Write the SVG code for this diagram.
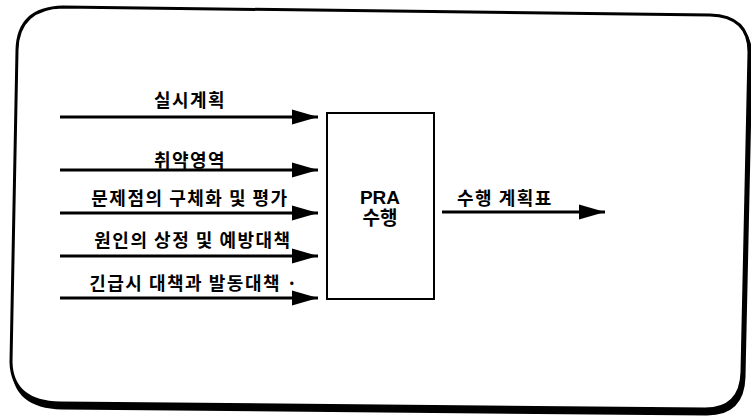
<svg xmlns="http://www.w3.org/2000/svg" width="751" height="419" viewBox="0 0 751 419">
<style>
.lbl{font-family:"Noto Sans CJK KR","Noto Sans",sans-serif;font-weight:bold;font-size:18px;letter-spacing:1.5px;fill:#000;text-anchor:middle}
.big{font-family:"Liberation Sans","Noto Sans CJK KR",sans-serif;font-weight:bold;font-size:19px;fill:#000;text-anchor:middle}
.ln{stroke:#000;stroke-width:2.8;fill:none}
</style>
<defs>
<marker id="ah" markerUnits="userSpaceOnUse" markerWidth="28" markerHeight="18" refX="26" refY="8" orient="auto">
<path d="M0,0.5 L26,8 L0,15.5 Z" fill="#000"/>
</marker>
<path id="frame" d="M63,7 L710,15 Q749,16 749,52 L742,372 Q741,409 705,409 L60,403 Q12,402 11,362 L17,50 Q18,8 63,7 Z"/>
</defs>
<rect width="751" height="419" fill="#fff"/>
<g id="frame-border">
<use href="#frame" transform="translate(2,5)" fill="#000" stroke="#000" stroke-width="3"/>
<use href="#frame" fill="#fff" stroke="#000" stroke-width="3"/>
</g>
<g id="connectors">
<line class="ln" x1="60" y1="117" x2="318" y2="117" marker-end="url(#ah)"/>
<line class="ln" x1="60" y1="170" x2="318" y2="170" marker-end="url(#ah)"/>
<line class="ln" x1="60" y1="213" x2="318" y2="213" marker-end="url(#ah)"/>
<line class="ln" x1="60" y1="256" x2="318" y2="256" marker-end="url(#ah)"/>
<line class="ln" x1="60" y1="298" x2="318" y2="298" marker-end="url(#ah)"/>
<line class="ln" x1="442" y1="212" x2="605" y2="212" marker-end="url(#ah)"/>
</g>
<g id="labels">
<text class="lbl" x="190" y="107">실시계획</text>
<text class="lbl" x="190" y="167">취약영역</text>
<text class="lbl" x="190" y="205">문제점의 구체화 및 평가</text>
<text class="lbl" x="193" y="247">원인의 상정 및 예방대책</text>
<text class="lbl" x="194" y="290">긴급시 대책과 발동대책 ·</text>
<text class="lbl" x="505" y="205">수행 계획표</text>
</g>
<g id="node-pra">
<rect x="327" y="113" width="107" height="186" fill="#fff" stroke="#000" stroke-width="2"/>
<text class="big" x="380" y="204">PRA</text>
<text class="big" x="380" y="225">수행</text>
</g>
</svg>
